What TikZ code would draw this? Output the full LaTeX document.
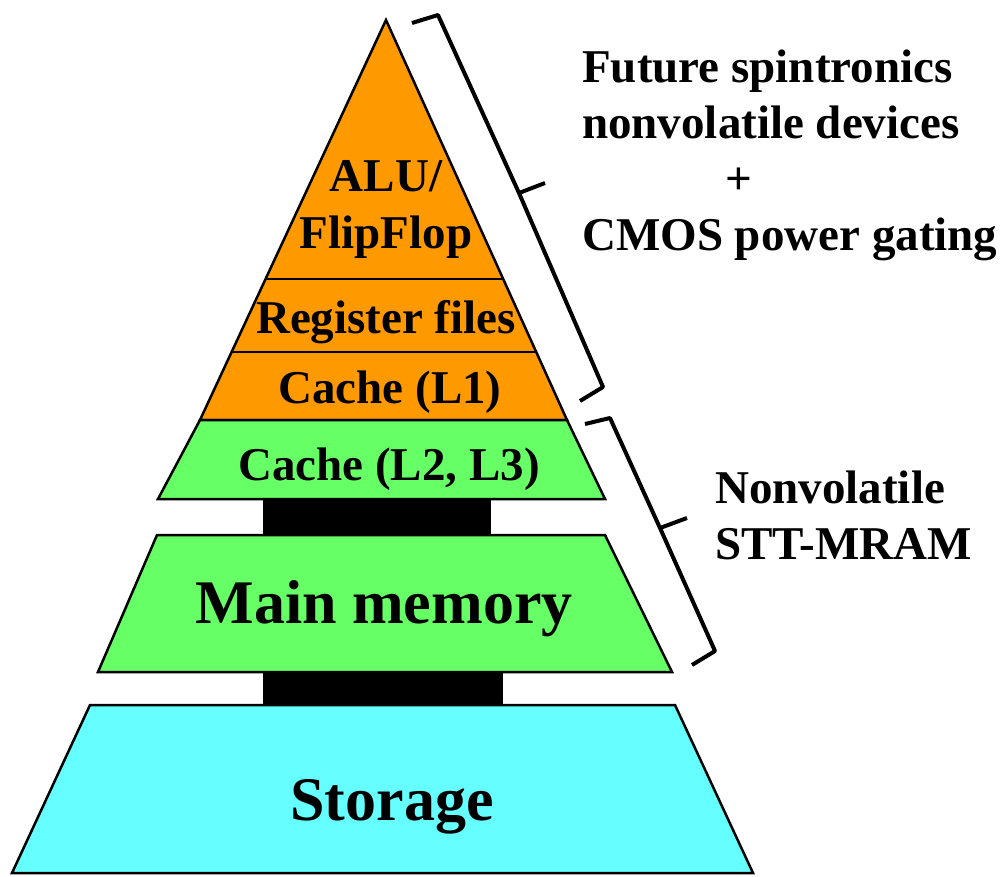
\documentclass[tikz,border=0pt]{standalone}
\usepackage{fontspec}
\setmainfont{Liberation Serif}
\usepackage{tikz}
\definecolor{aluorange}{RGB}{255,153,0}
\definecolor{memgreen}{RGB}{102,255,102}
\definecolor{diskcyan}{RGB}{102,255,255}

\begin{document}
\begin{tikzpicture}[x=1pt,y=-1pt,
	layer/.style={draw,line width=2.5pt},
	bus/.style={fill=black},
	brace/.style={line width=4pt,line join=round},
	lbl/.style={font=\fontsize{47}{57}\selectfont\bfseries,inner sep=0pt,align=center},
	sidelbl/.style={font=\fontsize{47}{56}\selectfont\bfseries,inner sep=0pt,align=left,anchor=west},
	biglbl/.style={font=\fontsize{62}{70}\selectfont\bfseries,inner sep=0pt}]
	\useasboundingbox (0,0) rectangle (1008,876);
	%
	\fill[bus] (263,495) rectangle (491,539);
	\fill[bus] (263,668) rectangle (503,709);
	\draw[layer,fill=aluorange] (386,20) -- (567,420) -- (200,420) -- cycle;
	\draw[layer] (266,279) -- (503,279);
	\draw[layer] (232,352) -- (536,352);
	\draw[layer,fill=memgreen] (200,420) -- (567,420) -- (605,499) -- (158,499) -- cycle;
	\draw[layer,fill=memgreen] (157,535) -- (605,535) -- (672,672) -- (98,672) -- cycle;
	\draw[layer,fill=diskcyan] (90,705) -- (675,705) -- (753,873) -- (12,873) -- cycle;
	%
	\node[lbl] (alu) at (386,209) {ALU/\\FlipFlop};
	\node[lbl,anchor=base] (reg) at (386,333) {Register files};
	\node[lbl,anchor=base] (l1) at (390,403) {Cache (L1)};
	\node[lbl,anchor=base] (l2) at (389,480) {Cache (L2, L3)};
	\node[biglbl,anchor=base] (mem) at (384,623) {Main memory};
	\node[biglbl,anchor=base] (sto) at (392,820) {Storage};
	%
	\coordinate (ua) at (412,23);
	\coordinate (ub) at (438,15);
	\coordinate (uc) at (519,193);
	\coordinate (ut) at (545,183);
	\coordinate (ud) at (603,387);
	\coordinate (ue) at (580,401);
	\draw[brace] (ua) -- (ub) -- (uc) -- (ud) -- (ue);
	\draw[brace] (uc) -- (ut);
	\coordinate (la) at (585,424);
	\coordinate (lb) at (610,418);
	\coordinate (lc) at (660,528);
	\coordinate (lt) at (687,518);
	\coordinate (ld) at (715,651);
	\coordinate (le) at (692,665);
	\draw[brace] (la) -- (lb) -- (lc) -- (ld) -- (le);
	\draw[brace] (lc) -- (lt);
	%
	\node[sidelbl] (fut) at (582,155) {Future spintronics\\nonvolatile devices\\\hspace*{143pt}+\\CMOS power gating};
	\node[sidelbl] (stt) at (715,515) {Nonvolatile\\STT-MRAM};
\end{tikzpicture}
\end{document}
